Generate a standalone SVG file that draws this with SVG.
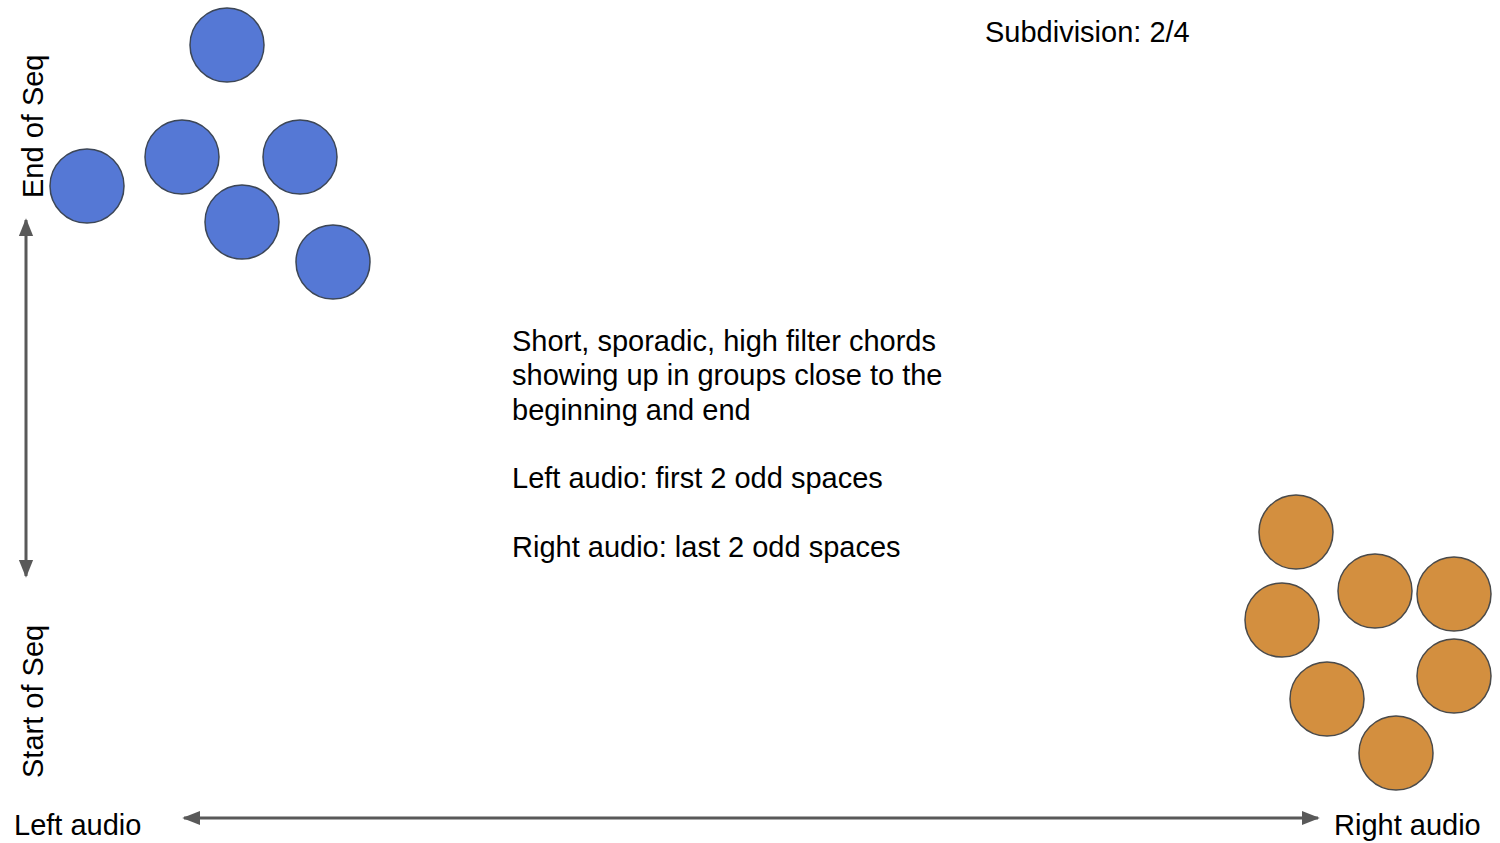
<svg xmlns="http://www.w3.org/2000/svg" width="1500" height="843" viewBox="0 0 1500 843">
<defs>
<style>
.t{font-family:"Liberation Sans",Arial,sans-serif;font-size:29px;fill:#000}
.b{fill:#5578d5;stroke:#3c4656;stroke-width:1.5}
.o{fill:#d38f3f;stroke:#4a4a4a;stroke-width:1.5}
.c{stroke:#595959;stroke-width:3;fill:none}
</style>
<marker id="ah" viewBox="0 0 10 10" refX="9" refY="5" markerWidth="6" markerHeight="6" markerUnits="strokeWidth" orient="auto-start-reverse">
<path d="M0,1 L10,5 L0,9 Z" fill="#595959"/>
</marker>
</defs>
<rect width="1500" height="843" fill="#fff"/>
<g id="connectors">
<line class="c" x1="26" y1="220" x2="26" y2="576" marker-start="url(#ah)" marker-end="url(#ah)"/>
<line class="c" x1="184" y1="818" x2="1318" y2="818" marker-start="url(#ah)" marker-end="url(#ah)"/>
</g>
<g id="blue-dots">
<circle id="b1" class="b" cx="227" cy="45" r="37"/>
<circle id="b2" class="b" cx="87" cy="186" r="37"/>
<circle id="b3" class="b" cx="182" cy="157" r="37"/>
<circle id="b4" class="b" cx="300" cy="157" r="37"/>
<circle id="b5" class="b" cx="242" cy="222" r="37"/>
<circle id="b6" class="b" cx="333" cy="262" r="37"/>
</g>
<g id="orange-dots">
<circle id="o1" class="o" cx="1296" cy="532" r="37"/>
<circle id="o2" class="o" cx="1375" cy="591" r="37"/>
<circle id="o3" class="o" cx="1454" cy="594" r="37"/>
<circle id="o4" class="o" cx="1282" cy="620" r="37"/>
<circle id="o5" class="o" cx="1454" cy="676" r="37"/>
<circle id="o6" class="o" cx="1327" cy="699" r="37"/>
<circle id="o7" class="o" cx="1396" cy="753" r="37"/>
</g>
<g id="labels">
<text class="t" x="985" y="42">Subdivision: 2/4</text>
<text class="t" transform="translate(43,198) rotate(-90)">End of Seq</text>
<text class="t" transform="translate(43,778) rotate(-90)">Start of Seq</text>
<text class="t" x="14" y="835">Left audio</text>
<text class="t" x="1334" y="835">Right audio</text>
<text class="t" x="512" y="351">Short, sporadic, high filter chords</text>
<text class="t" x="512" y="385">showing up in groups close to the</text>
<text class="t" x="512" y="420">beginning and end</text>
<text class="t" x="512" y="488">Left audio: first 2 odd spaces</text>
<text class="t" x="512" y="557">Right audio: last 2 odd spaces</text>
</g>
</svg>
